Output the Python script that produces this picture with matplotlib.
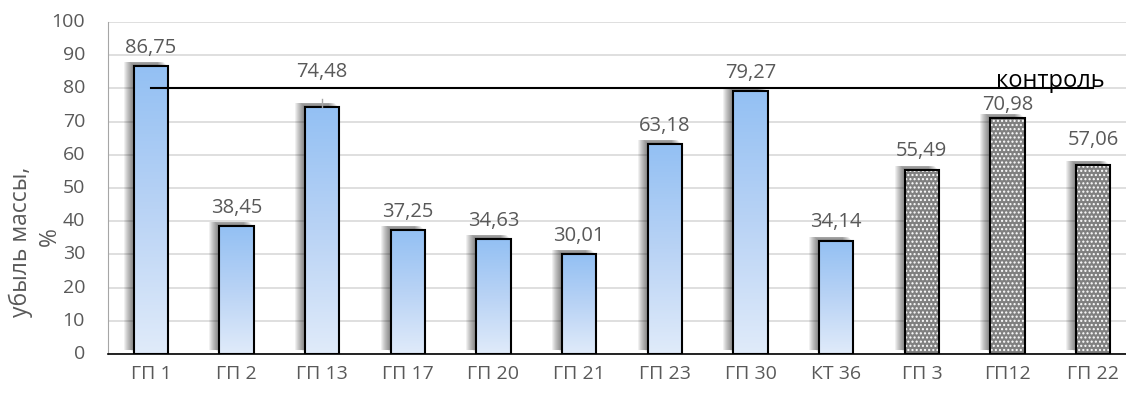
import numpy as np
import matplotlib
matplotlib.use("Agg")
import matplotlib.pyplot as plt
import matplotlib.patheffects as pe
import matplotlib.transforms as mtransforms
from matplotlib.colors import LinearSegmentedColormap

categories = ["ГП 1", "ГП 2", "ГП 13", "ГП 17", "ГП 20", "ГП 21", "ГП 23", "ГП 30", "КТ 36", "ГП 3", "ГП12", "ГП 22"]
values = [86.75, 38.45, 74.48, 37.25, 34.63, 30.01, 63.18, 79.27, 34.14, 55.49, 70.98, 57.06]
labels = ["86,75", "38,45", "74,48", "37,25", "34,63", "30,01", "63,18", "79,27", "34,14", "55,49", "70,98", "57,06"]
yticks = [0, 10, 20, 30, 40, 50, 60, 70, 80, 90, 100]
hatched = [False]*9 + [True]*3
control_value = 80
control_label = "контроль"

plt.rcParams['font.family'] = ['Open Sans', 'DejaVu Sans']
grey = '#595959'

fig = plt.figure(figsize=(11.26, 3.96), dpi=100)
ax = fig.add_axes([108/1126, 42/396, 1028/1126, 332/396])
ax.set_xlim(-0.5, 11.5)
ax.set_ylim(0, 100)
ax.set_yticks(yticks)
ax.set_yticklabels([])
ax.yaxis.grid(True, color='#D9D9D9', linewidth=1.2, zorder=0)
ax.set_axisbelow(True)
for s in ['top', 'right']:
    ax.spines[s].set_visible(False)
ax.spines['left'].set_color('#A6A6A6')
ax.spines['bottom'].set_color('#000000')
ax.spines['bottom'].set_linewidth(1.2)
ax.tick_params(axis='x', length=0, colors=grey, labelsize=14, pad=8)
ax.tick_params(axis='y', length=0)

# y tick labels placed 23 px left of the axis
ylab_tr = mtransforms.offset_copy(ax.get_yaxis_transform(), fig=fig, x=-23, y=0, units='dots')
for t in yticks:
    ax.text(0, t, str(t), transform=ylab_tr, ha='right', va='center', fontsize=14, color=grey, clip_on=False)

x = np.arange(len(categories))
w = 0.40

# soft shadows
for k in range(1, 11):
    sb = ax.bar(x, values, width=w, color='white', linewidth=0, zorder=2)
    for p in sb:
        p.set_path_effects([pe.SimplePatchShadow(offset=(-k * 0.72, min(k, 4) * 0.72), shadow_rgbFace='black', alpha=0.06)])

cmap = LinearSegmentedColormap.from_list('g', ['#E0EBFA', '#B9D3F5', '#93C0F3'])
grad = np.linspace(0, 1, 256).reshape(-1, 1)

for i, (xi, v, h) in enumerate(zip(x, values, hatched)):
    if h:
        ax.bar(xi, v, width=w, color='#808080', linewidth=0, zorder=3)
        ax.bar(xi, v, width=w, facecolor='none', edgecolor='white', hatch='....', linewidth=0, zorder=3.5)
    else:
        base = ax.bar(xi, v, width=w, color='none', linewidth=0, zorder=3)[0]
        im = ax.imshow(grad, cmap=cmap, origin='lower', aspect='auto',
                       extent=[xi - w/2, xi + w/2, 0, v], zorder=3)
        im.set_clip_path(base)
    ax.bar(xi, v, width=w, facecolor='none', edgecolor='black', linewidth=1.5, zorder=4)

ax.set_xlim(-0.5, 11.5)
ax.set_ylim(0, 100)

# control line
ax.plot([x[0], x[-1]], [control_value, control_value], color='black', linewidth=1.5, zorder=5)
ax.text(x[-1] - 0.5, control_value + 0.5, control_label, ha='center', va='baseline', fontsize=17, color='black', zorder=6)

# value labels
for i, (xi, v, lab) in enumerate(zip(x, values, labels)):
    extra = 0
    if i == 2:
        extra = 4.8
        ax.plot([xi, xi], [v, v + 2.2], color='#A6A6A6', linewidth=1, zorder=5)
    if i == 10:
        extra = -1.6
    if i == 11:
        extra = 2
    ax.text(xi, v + 2.5 + extra, lab, ha='center', va='bottom', fontsize=14.5, color=grey, zorder=6)

ax.set_xticks(x)
ax.set_xticklabels(categories)

fig.text(21/1126, 1 - 242/396, "убыль массы,", rotation=90, ha='center', va='center', fontsize=16.5, color=grey)
fig.text(50/1126, 1 - 237/396, "%", rotation=90, ha='center', va='center', fontsize=16.5, color=grey)

fig.savefig('out.png', dpi=100)
